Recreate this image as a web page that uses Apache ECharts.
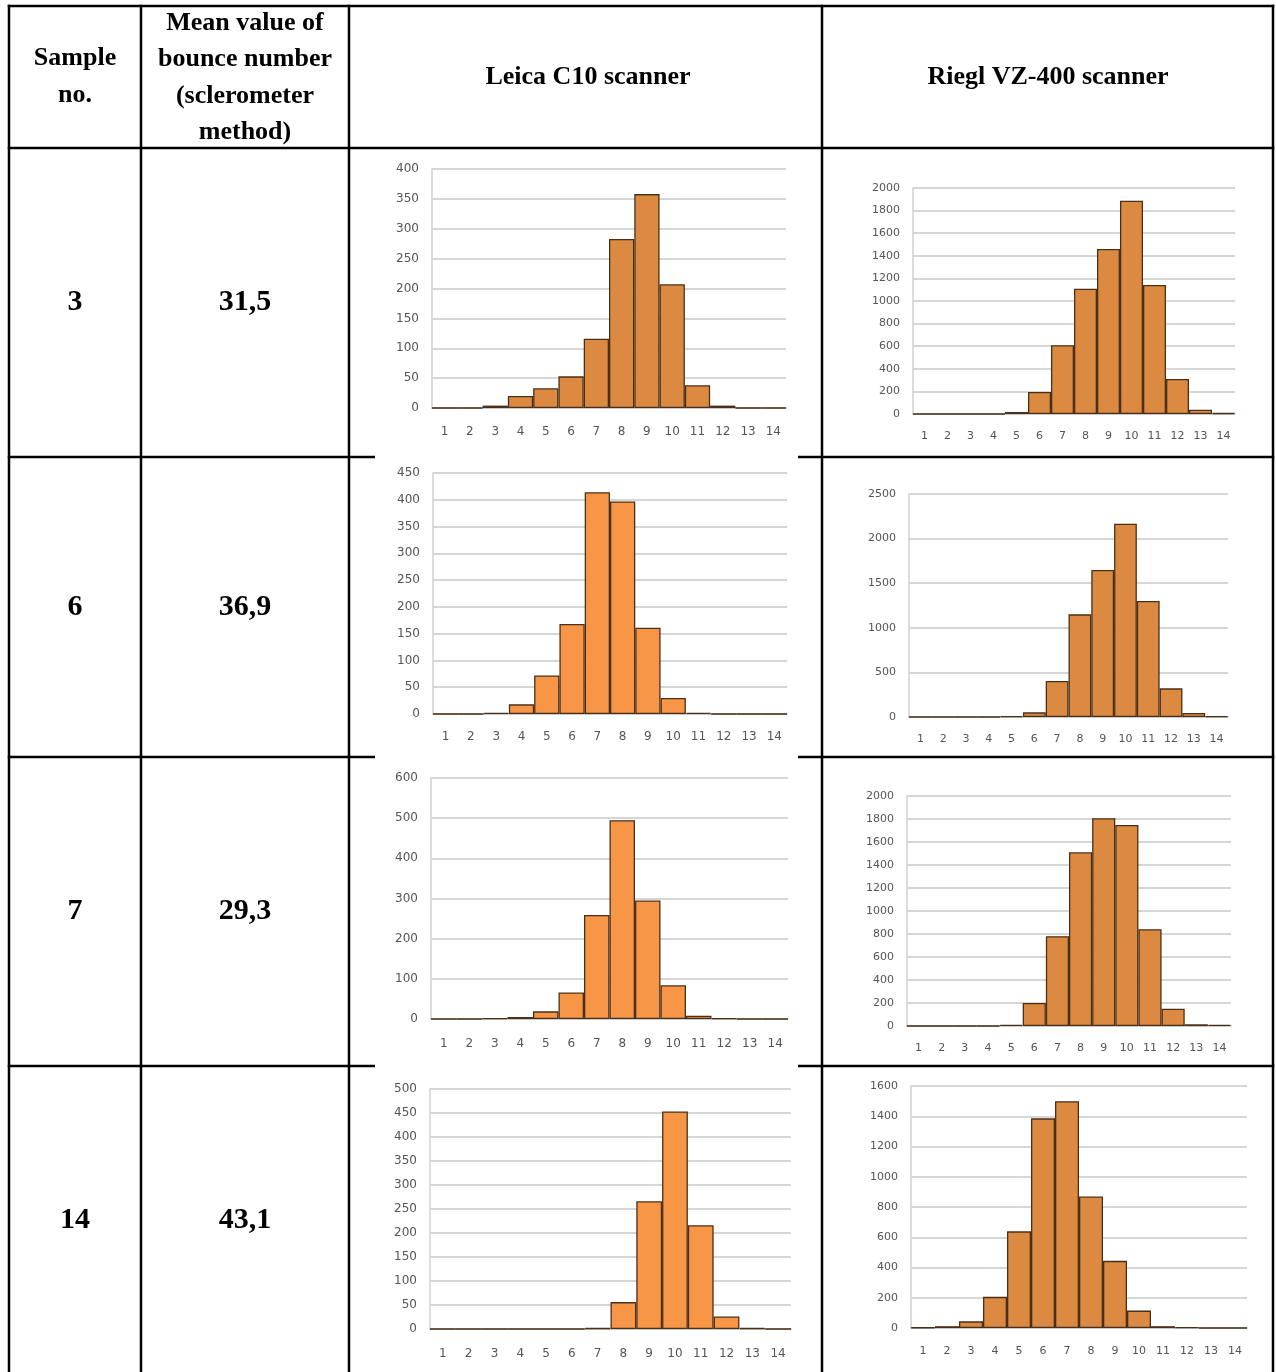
<!DOCTYPE html>
<html><head><meta charset="utf-8">
<script src="https://cdn.jsdelivr.net/npm/echarts@6/dist/echarts.min.js"></script>
<style>html,body{margin:0;padding:0;background:#fff}#c{width:1276px;height:1372px}</style>
</head><body><div id="c"></div>
<script>
// ---- data ----
const categories = ['1','2','3','4','5','6','7','8','9','10','11','12','13','14'];
const leicaS3  = [0,0,4,20,33,53,116,283,358,207,38,4,0,0];
const rieglS3  = [0,0,0,0,18,195,608,1109,1460,1888,1142,310,38,9];
const leicaS6  = [0,0,2,18,72,168,414,397,161,30,2,0,0,0];
const rieglS6  = [0,0,0,0,10,52,404,1151,1648,2167,1300,321,45,8];
const leicaS7  = [0,0,2,5,19,66,259,495,295,84,8,2,0,0];
const rieglS7  = [0,0,0,0,10,200,781,1511,1806,1748,842,150,15,10];
const leicaS14 = [0,0,0,0,0,0,2,56,266,453,216,26,2,0];
const rieglS14 = [3,12,44,206,639,1386,1500,869,444,115,12,4,0,0];
const sampleNos  = ['3','6','7','14'];
const meanValues = ['31,5','36,9','29,3','43,1'];
const headerSample = ['Sample','no.'];
const headerMean = ['Mean value of','bounce number','(sclerometer','method)'];
const headerLeica = 'Leica C10 scanner';
const headerRiegl = 'Riegl VZ-400 scanner';
const yMaxes = [400,2000,450,2500,600,2000,500,1600];
const yIntervals = [50,200,50,500,100,200,50,200];

// ---- layout ----
const DARK = '#dc8a42', LIGHT = '#f79646';
const charts = [
  {data: leicaS3,  l:432, r:786,  t:169,  b:408,  c:DARK,  m:19, fs:12},
  {data: rieglS3,  l:913, r:1235, t:188,  b:414,  c:DARK,  m:18, fs:11},
  {data: leicaS6,  l:433, r:787,  t:473,  b:714,  c:LIGHT, m:18, fs:12},
  {data: rieglS6,  l:909, r:1228, t:494,  b:717,  c:DARK,  m:18, fs:11},
  {data: leicaS7,  l:431, r:788,  t:778,  b:1019, c:LIGHT, m:20, fs:12},
  {data: rieglS7,  l:907, r:1231, t:796,  b:1026, c:DARK,  m:18, fs:11},
  {data: leicaS14, l:430, r:791,  t:1089, b:1329, c:LIGHT, m:20, fs:12},
  {data: rieglS14, l:911, r:1247, t:1086, b:1328, c:DARK,  m:19, fs:11}
];
const colX = [9,141,349,822,1273];
const rowY = [6,148,457,757,1066,1374];

const grid=[], xAxis=[], yAxis=[], series=[];
charts.forEach((ch,i)=>{
  grid.push({left:ch.l, top:ch.t, width:ch.r-ch.l, height:ch.b-ch.t, containLabel:false});
  xAxis.push({type:'category', gridIndex:i, data:categories,
    axisTick:{show:false},
    axisLine:{show:true, lineStyle:{color:'#c4c4c4', width:1.5}},
    axisLabel:{interval:0, color:'#555', fontSize:ch.fs, fontFamily:'DejaVu Sans', margin:ch.m-1}});
  yAxis.push({type:'value', gridIndex:i, min:0, max:yMaxes[i], interval:yIntervals[i],
    axisTick:{show:false},
    axisLine:{show:true, lineStyle:{color:'#d0d0d0', width:1.5}},
    splitLine:{show:true, lineStyle:{color:'#c8c8c8', width:1.5}},
    axisLabel:{color:'#555', fontSize:ch.fs, fontFamily:'DejaVu Sans', margin:13, formatter:v=>String(v)}});
  series.push({type:'bar', xAxisIndex:i, yAxisIndex:i, data:ch.data,
    barCategoryGap:'0%', silent:true, animation:false,
    itemStyle:{color:ch.c, borderColor:'#4a3018', borderWidth:1.3}});
});

const graphic=[];
function line(x1,y1,x2,y2){
  graphic.push({type:'line', z:100, shape:{x1,y1,x2,y2}, style:{stroke:'#000', lineWidth:2.5}});
}
function txt(t,x,y,size){
  graphic.push({type:'text', z:100, x:x, y:y, style:{text:t, font:'bold '+size+'px "Liberation Serif", "Times New Roman", serif', fill:'#000', textAlign:'center', textVerticalAlign:'middle'}});
}
// vertical lines
colX.forEach(x=>line(x,rowY[0]-1.25,x,rowY[5]));
// horizontal lines
line(colX[0]-1.25,rowY[0],colX[4]+1.25,rowY[0]);
line(colX[0]-1.25,rowY[1],colX[4]+1.25,rowY[1]);
for(let r=2;r<=4;r++){
  line(colX[0]-1.25,rowY[r],colX[2],rowY[r]);
  line(colX[2],rowY[r],375,rowY[r]);
  line(798,rowY[r],colX[3],rowY[r]);
  line(colX[3],rowY[r],colX[4]+1.25,rowY[r]);
}
// header text
txt(headerSample[0],75,58,26); txt(headerSample[1],75,95,26);
headerMean.forEach((t,k)=>txt(t,245,23+k*36.5,26));
txt(headerLeica,588,77,26);
txt(headerRiegl,1048,77,26);
// values
sampleNos.forEach((t,k)=>txt(t,75,(rowY[k+1]+rowY[k+2])/2,30));
meanValues.forEach((t,k)=>txt(t,245,(rowY[k+1]+rowY[k+2])/2,30));

const chart = echarts.init(document.getElementById('c'), null, {renderer:'canvas'});
chart.setOption({animation:false, backgroundColor:'#fff', grid, xAxis, yAxis, series, graphic});
</script></body></html>
